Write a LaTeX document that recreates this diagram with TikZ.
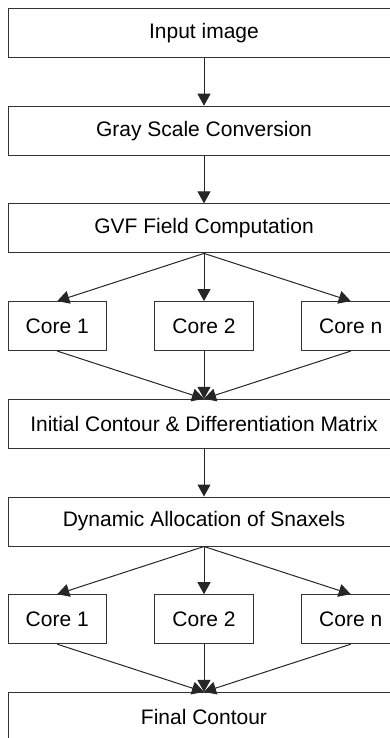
\documentclass[tikz,border=0pt]{standalone}
\usepackage{fontspec}
\setmainfont{Liberation Sans}
\usetikzlibrary{arrows.meta,positioning}

\begin{document}
\begin{tikzpicture}[
  stagebox/.style={draw=black!80, line width=1pt, minimum width=392pt, minimum height=49pt, inner sep=0pt, font=\fontsize{21}{25}\selectfont},
  corebox/.style={stagebox, minimum width=98.5pt},
  edge/.style={-{Triangle[length=12pt, width=13pt]}, line width=1pt, draw=black!85},
  node distance=47.7pt and 47.25pt
]
\clip (0,0) rectangle (390pt,-738pt);
\node[stagebox] (input) at (204pt,-33pt) {Input image};
\node[stagebox, below=of input] (gray) {Gray Scale Conversion};
\node[stagebox, below=of gray] (gvf) {GVF Field Computation};

\node[corebox, below=of gvf] (coreAb) {Core 2};
\node[corebox, left=of coreAb] (coreAa) {Core 1};
\node[corebox, right=of coreAb] (coreAn) {Core n};

\node[stagebox, below=of coreAb] (init) {Initial Contour \& Differentiation Matrix};
\node[stagebox, below=of init] (alloc) {Dynamic Allocation of Snaxels};

\node[corebox, below=of alloc] (coreBb) {Core 2};
\node[corebox, left=of coreBb] (coreBa) {Core 1};
\node[corebox, right=of coreBb] (coreBn) {Core n};

\node[stagebox, below=of coreBb] (final) {Final Contour};

\draw[edge] (input) -- (gray);
\draw[edge] (gray) -- (gvf);
\draw[edge] (gvf.south) -- (coreAa.north);
\draw[edge] (gvf.south) -- (coreAb.north);
\draw[edge] (gvf.south) -- (coreAn.north);
\draw[edge] (coreAa.south) -- (init.north);
\draw[edge] (coreAb.south) -- (init.north);
\draw[edge] (coreAn.south) -- (init.north);
\draw[edge] (init) -- (alloc);
\draw[edge] (alloc.south) -- (coreBa.north);
\draw[edge] (alloc.south) -- (coreBb.north);
\draw[edge] (alloc.south) -- (coreBn.north);
\draw[edge] (coreBa.south) -- (final.north);
\draw[edge] (coreBb.south) -- (final.north);
\draw[edge] (coreBn.south) -- (final.north);
\end{tikzpicture}
\end{document}
